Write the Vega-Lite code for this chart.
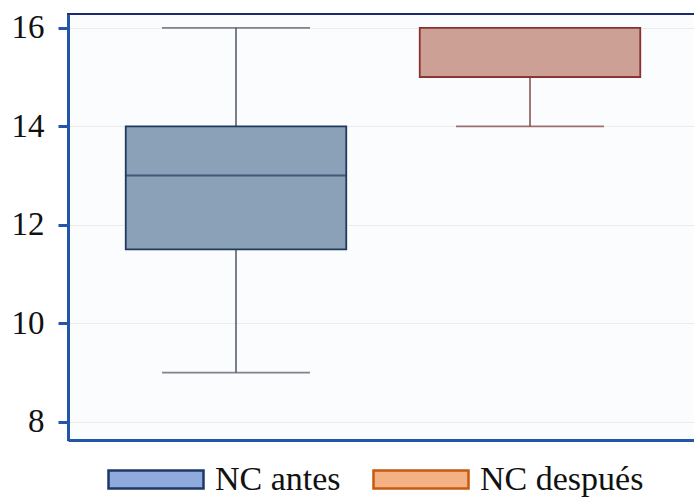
{
  "$schema": "https://vega.github.io/schema/vega-lite/v6.json",
  "width": 630,
  "height": 426,
  "autosize": "none",
  "padding": {"left": 68, "top": 14, "right": 0, "bottom": 57},
  "background": "white",
  "config": {
    "view": {"fill": "#fbfcfe", "stroke": "#1b2a6b", "strokeWidth": 2},
    "font": "Liberation Serif",
    "axis": {"labelFont": "Liberation Serif", "labelFontSize": 33, "labelColor": "#111111"},
    "legend": {"labelFont": "Liberation Serif", "labelFontSize": 34, "labelColor": "#111111", "labelLimit": 400}
  },
  "data": {
    "values": [
      {"group": "NC antes", "min": 9, "q1": 11.5, "median": 13, "q3": 14, "max": 16},
      {"group": "NC después", "min": 14, "q1": 15, "median": 15, "q3": 16, "max": 16}
    ]
  },
  "encoding": {
    "x": {
      "field": "group",
      "type": "nominal",
      "sort": null,
      "scale": {"paddingInner": 0, "paddingOuter": 0.0714},
      "axis": {"labels": false, "ticks": false, "title": null, "domainColor": "#2356a8", "domainWidth": 3, "grid": false}
    }
  },
  "layer": [
    {
      "mark": {"type": "rule", "strokeWidth": 1.6},
      "encoding": {
        "y": {
          "field": "min", "type": "quantitative",
          "scale": {"domain": [7.63, 16.28], "nice": false, "zero": false},
          "axis": {
            "values": [8, 10, 12, 14, 16], "title": null,
            "domainColor": "#2356a8", "domainWidth": 3,
            "tickColor": "#2356a8", "tickWidth": 3, "tickSize": 10,
            "labelFont": "Liberation Serif", "labelFontSize": 33, "labelColor": "#111111", "labelPadding": 14,
            "gridColor": "#ececec", "gridWidth": 1
          }
        },
        "y2": {"field": "q1"},
        "color": {"condition": {"test": "datum.group === 'NC antes'", "value": "#5a606a"}, "value": "#8a5656"}
      }
    },
    {
      "mark": {"type": "rule", "strokeWidth": 1.6},
      "encoding": {
        "y": {"field": "q3", "type": "quantitative", "scale": {"domain": [7.63, 16.28], "nice": false, "zero": false}, "title": null},
        "y2": {"field": "max"},
        "color": {"condition": {"test": "datum.group === 'NC antes'", "value": "#5a606a"}, "value": "#8a5656"}
      }
    },
    {
      "mark": {"type": "tick", "size": 148, "thickness": 1.8},
      "encoding": {
        "y": {"field": "min", "type": "quantitative", "scale": {"domain": [7.63, 16.28], "nice": false, "zero": false}, "title": null},
        "color": {"condition": {"test": "datum.group === 'NC antes'", "value": "#4a505c"}, "value": "#7a3a3a"}
      }
    },
    {
      "mark": {"type": "tick", "size": 148, "thickness": 1.8},
      "encoding": {
        "y": {"field": "max", "type": "quantitative", "scale": {"domain": [7.63, 16.28], "nice": false, "zero": false}, "title": null},
        "color": {"condition": {"test": "datum.group === 'NC antes'", "value": "#4a505c"}, "value": "#7a3a3a"}
      }
    },
    {
      "mark": {"type": "bar", "width": {"band": 0.75}, "strokeWidth": 1.8},
      "encoding": {
        "y": {"field": "q1", "type": "quantitative", "scale": {"domain": [7.63, 16.28], "nice": false, "zero": false}, "title": null},
        "y2": {"field": "q3"},
        "fill": {"condition": {"test": "datum.group === 'NC antes'", "value": "#8aa1b8"}, "value": "#cda096"},
        "stroke": {"condition": {"test": "datum.group === 'NC antes'", "value": "#1f3a5c"}, "value": "#8b3030"}
      }
    },
    {
      "mark": {"type": "tick", "size": 221, "thickness": 2},
      "encoding": {
        "y": {"field": "median", "type": "quantitative", "scale": {"domain": [7.63, 16.28], "nice": false, "zero": false}, "title": null},
        "color": {"condition": {"test": "datum.group === 'NC antes'", "value": "#1f3a5c"}, "value": "#8b3030"}
      }
    },
    {
      "transform": [{"filter": "false"}],
      "mark": {"type": "bar", "strokeWidth": 2.5},
      "encoding": {
        "y": {"field": "q1", "type": "quantitative", "scale": {"domain": [7.63, 16.28], "nice": false, "zero": false}, "title": null},
        "fill": {
          "field": "group", "type": "nominal",
          "scale": {"domain": ["NC antes", "NC después"], "range": ["#8faadc", "#f4b183"]},
          "legend": {
            "orient": "none", "legendX": 39, "legendY": 416.5, "direction": "horizontal", "title": null,
            "symbolType": "M-1,-0.19H1V0.19H-1Z", "symbolSize": 9025, "symbolStrokeWidth": 2.5,
            "labelFont": "Liberation Serif", "labelFontSize": 34, "labelColor": "#111111", "labelOffset": 10,
            "columnPadding": 27, "labelLimit": 400
          }
        },
        "stroke": {
          "field": "group", "type": "nominal",
          "scale": {"domain": ["NC antes", "NC después"], "range": ["#203864", "#c55a11"]}
        }
      }
    }
  ]
}
